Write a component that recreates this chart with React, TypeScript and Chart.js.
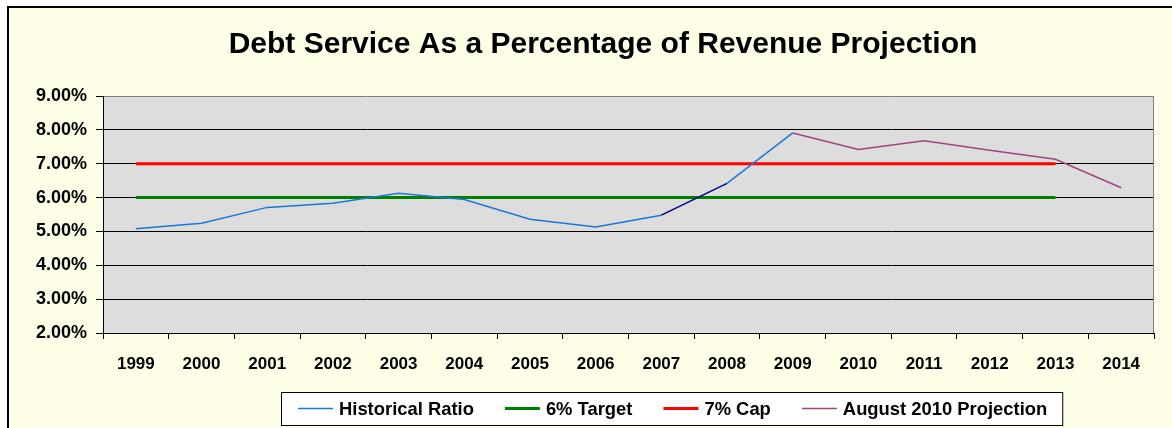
import React, { useEffect, useRef } from 'react';
import { Chart, registerables } from 'chart.js';

Chart.register(...registerables);

const FONT = "'Liberation Sans', Arial, Helvetica, sans-serif";

const years = ['1999', '2000', '2001', '2002', '2003', '2004', '2005', '2006', '2007', '2008', '2009', '2010', '2011', '2012', '2013', '2014'];
const historicalRatio = [5.08, 5.24, 5.71, 5.83, 6.13, 5.94, 5.36, 5.13, 5.48, 6.42, 7.91, null, null, null, null, null];
const target6 = [6, 6, 6, 6, 6, 6, 6, 6, 6, 6, 6, 6, 6, 6, 6, null];
const cap7 = [7, 7, 7, 7, 7, 7, 7, 7, 7, 7, 7, 7, 7, 7, 7, null];
const august2010Projection = [null, null, null, null, null, null, null, null, null, null, 7.91, 7.42, 7.68, 7.4, 7.13, 6.29];
const seriesNames = ['Historical Ratio', '6% Target', '7% Cap', 'August 2010 Projection'];
const yMin = 2;
const yMax = 9;
const yStep = 1;
const titleText = 'Debt Service As a Percentage of Revenue Projection';
const darkSegmentStartYear = '2007';

const framePlugin = {
  id: 'frame',
  beforeDraw(chart: any) {
    const { ctx, chartArea: a, width, height } = chart;
    ctx.save();
    ctx.fillStyle = '#ffffff';
    ctx.fillRect(0, 0, width, height);
    ctx.fillStyle = '#FFFFE8';
    ctx.fillRect(7, 6, width, height);
    ctx.fillStyle = '#000000';
    ctx.fillRect(7, 6, width, 2);
    ctx.fillRect(7, 6, 2, height);
    ctx.fillStyle = '#DDDDDD';
    ctx.fillRect(a.left, a.top, a.right - a.left, a.bottom - a.top);
    ctx.restore();
  },
  beforeDatasetsDraw(chart: any) {
    const { ctx, chartArea: a } = chart;
    ctx.save();
    ctx.strokeStyle = '#808080';
    ctx.lineWidth = 1;
    ctx.beginPath();
    ctx.moveTo(a.right - 0.5, a.top);
    ctx.lineTo(a.right - 0.5, a.bottom);
    ctx.stroke();
    ctx.restore();
  },
  afterDraw(chart: any) {
    const { ctx } = chart;
    const boxLeft = 281;
    const boxTop = 392;
    const boxH = 33;
    const cy = boxTop + boxH / 2;
    ctx.save();
    ctx.font = `bold 18.4px ${FONT}`;
    ctx.textBaseline = 'middle';
    ctx.textAlign = 'left';
    let x = boxLeft + 17;
    const items = chart.data.datasets.map((ds: any) => {
      const tw = ctx.measureText(ds.label).width;
      const it = { ds, x, tw };
      x += 35 + 6 + tw + 31;
      return it;
    });
    const boxRight = x - 31 + 15;
    ctx.fillStyle = '#ffffff';
    ctx.fillRect(boxLeft, boxTop, boxRight - boxLeft, boxH);
    ctx.strokeStyle = '#000000';
    ctx.lineWidth = 1;
    ctx.strokeRect(boxLeft + 0.5, boxTop + 0.5, boxRight - boxLeft, boxH);
    items.forEach((it: any) => {
      ctx.strokeStyle = it.ds.borderColor;
      ctx.lineWidth = it.ds.borderWidth;
      ctx.beginPath();
      ctx.moveTo(it.x, cy);
      ctx.lineTo(it.x + 35, cy);
      ctx.stroke();
      ctx.fillStyle = '#000000';
      ctx.fillText(it.ds.label, it.x + 41, cy + 1);
    });
    ctx.restore();
  },
};

export default function App() {
  const ref = useRef<HTMLCanvasElement | null>(null);
  useEffect(() => {
    if (!ref.current) return;
    const darkIdx = years.indexOf(darkSegmentStartYear);
    const chart = new Chart(ref.current, {
      type: 'line',
      data: {
        labels: years,
        datasets: [
          {
            label: seriesNames[0],
            data: historicalRatio,
            borderColor: '#1A78D6',
            borderWidth: 1.5,
            pointRadius: 0,
            order: 0,
            segment: {
              borderColor: (c: any) => (c.p0DataIndex === darkIdx ? '#000080' : undefined),
            },
          },
          {
            label: seriesNames[1],
            data: target6,
            borderColor: '#008000',
            borderWidth: 3,
            pointRadius: 0,
            order: 2,
          },
          {
            label: seriesNames[2],
            data: cap7,
            borderColor: '#FF0000',
            borderWidth: 3,
            pointRadius: 0,
            order: 3,
          },
          {
            label: seriesNames[3],
            data: august2010Projection,
            borderColor: '#A0467A',
            borderWidth: 1.5,
            pointRadius: 0,
            order: 1,
          },
        ],
      },
      options: {
        responsive: false,
        animation: false,
        events: [],
        layout: { padding: { left: 34, right: 0, top: 0, bottom: 55 } },
        plugins: {
          legend: { display: false },
          tooltip: { enabled: false },
          title: {
            display: true,
            text: titleText,
            color: '#000000',
            font: { family: FONT, size: 30, weight: 'bold', lineHeight: 1.2 },
            padding: { top: 26.5, bottom: 33.5 },
          },
        },
        scales: {
          x: {
            type: 'category',
            offset: true,
            afterFit: (s: any) => {
              s.height = 40;
            },
            grid: {
              offset: true,
              drawOnChartArea: false,
              drawTicks: true,
              tickLength: 6,
              color: '#000000',
            },
            border: { color: '#000000', width: 1 },
            ticks: {
              color: '#000000',
              font: { family: FONT, size: 17, weight: 'bold' },
              padding: 15,
              maxRotation: 0,
              autoSkip: false,
            },
          },
          y: {
            min: yMin,
            max: yMax,
            afterFit: (s: any) => {
              s.width = 69;
            },
            grid: {
              color: (c: any) => (c.tick && c.tick.value === yMax ? '#808080' : '#000000'),
              tickColor: '#000000',
              tickLength: 7,
              lineWidth: 1,
            },
            border: { color: '#000000', width: 1 },
            ticks: {
              stepSize: yStep,
              color: '#000000',
              font: { family: FONT, size: 18, weight: 'bold' },
              padding: 9,
              callback: (v: any) => Number(v).toFixed(2) + '%',
            },
          },
          yPad: {
            position: 'right',
            display: true,
            afterFit: (s: any) => {
              s.width = 18;
            },
            grid: { display: false, drawTicks: false },
            border: { display: false },
            ticks: { display: false },
          },
        },
      },
      plugins: [framePlugin],
    } as any);
    return () => chart.destroy();
  }, []);
  return (
    <div style={{ position: 'fixed', left: 0, top: 0, width: 1172, height: 428, overflow: 'hidden', background: '#fff' }}>
      <canvas ref={ref} width={1172} height={428} style={{ display: 'block' }} />
    </div>
  );
}
